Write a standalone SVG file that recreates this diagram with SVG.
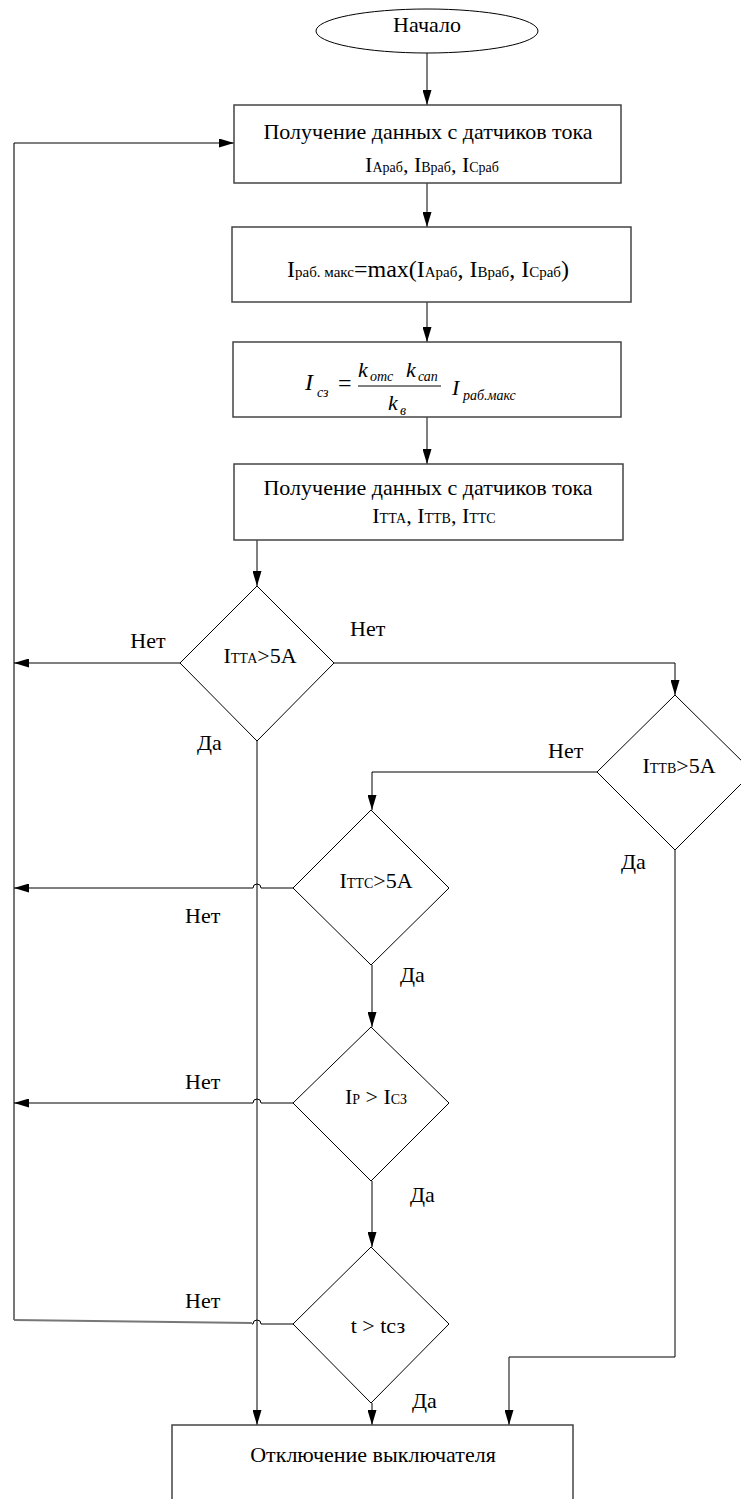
<svg xmlns="http://www.w3.org/2000/svg" width="741" height="1499" viewBox="0 0 741 1499" font-family="'Liberation Serif', 'Times New Roman', serif">
<style>
text{font-family:"Liberation Serif","Times New Roman",serif;fill:#000;}
.t{font-size:22px;}
.c{text-anchor:middle;}
.s{font-size:14px;}
.i{font-style:italic;}
.box{fill:#fff;stroke:#444;stroke-width:1.5;}
.dia{fill:#fff;stroke:#000;stroke-width:1;}
.ln{fill:none;stroke:#000;stroke-width:1;}
.gl{fill:none;stroke:#777;stroke-width:2;}
</style>
<defs>
<marker id="ar" viewBox="0 0 15 9" refX="15" refY="4.5" markerWidth="15" markerHeight="9" markerUnits="userSpaceOnUse" orient="auto">
<path d="M0,0 L15,4.5 L0,9 z" fill="#000"/>
</marker>
</defs>
<rect width="741" height="1499" fill="#fff"/>

<g id="connectors">
<line class="ln" x1="427" y1="53" x2="427" y2="105" marker-end="url(#ar)"/>
<line class="ln" x1="427" y1="183" x2="427" y2="227" marker-end="url(#ar)"/>
<line class="ln" x1="427" y1="302" x2="427" y2="342" marker-end="url(#ar)"/>
<line class="ln" x1="427" y1="417" x2="427" y2="464" marker-end="url(#ar)"/>
<line class="ln" x1="257" y1="540" x2="257" y2="586" marker-end="url(#ar)"/>
<path class="gl" d="M14 143 V1320"/>
<line class="ln" x1="14" y1="143" x2="234" y2="143" marker-end="url(#ar)"/>
<line class="ln" x1="180" y1="663" x2="14" y2="663" marker-end="url(#ar)"/>
<path class="ln" d="M334 663 H675 V695" marker-end="url(#ar)"/>
<path class="ln" d="M597 772 H372 V810" marker-end="url(#ar)"/>
<path class="ln" d="M675 850 V1357 H509 V1425" marker-end="url(#ar)"/>
<line class="ln" x1="257" y1="741" x2="257" y2="1425" marker-end="url(#ar)"/>
<path class="ln" d="M293 888 H261 A4 4 0 0 0 253 888 H14" marker-end="url(#ar)"/>
<path class="ln" d="M293 1103 H261 A4 4 0 0 0 253 1103 H14" marker-end="url(#ar)"/>
<path class="gl" d="M14 1320 L252 1323"/>
<path class="ln" d="M293 1324 H261 A4 4 0 0 0 253 1324 H252"/>
<line class="ln" x1="372" y1="965" x2="372" y2="1027" marker-end="url(#ar)"/>
<line class="ln" x1="372" y1="1181" x2="372" y2="1247" marker-end="url(#ar)"/>
<line class="ln" x1="372" y1="1403" x2="372" y2="1425" marker-end="url(#ar)"/>
</g>

<g id="labels">
<text class="t c" x="148" y="648">Нет</text>
<text class="t" x="350" y="636">Нет</text>
<text class="t" x="197" y="750">Да</text>
<text class="t" x="548" y="758">Нет</text>
<text class="t" x="621" y="869">Да</text>
<text class="t" x="185" y="923">Нет</text>
<text class="t" x="400" y="982">Да</text>
<text class="t" x="185" y="1089">Нет</text>
<text class="t" x="410" y="1202">Да</text>
<text class="t" x="185" y="1308">Нет</text>
<text class="t" x="412" y="1408">Да</text>
</g>

<g id="start">
<ellipse cx="427" cy="31" rx="111" ry="22" fill="#fff" stroke="#000" stroke-width="1"/>
<text class="t c" x="427" y="32">Начало</text>
</g>

<g id="read1">
<rect class="box" x="234" y="105" width="387" height="78"/>
<text class="t c" x="428" y="139">Получение данных с датчиков тока</text>
<text class="t c" x="432" y="172">I<tspan class="s">Араб</tspan>, I<tspan class="s">Враб</tspan>, I<tspan class="s">Сраб</tspan></text>
</g>

<g id="maxcalc">
<rect class="box" x="232" y="227" width="399" height="75"/>
<text class="c" x="428" y="277" font-size="24">I<tspan font-size="15">раб. макс</tspan>=max(I<tspan font-size="15">Араб</tspan>, I<tspan font-size="15">Враб</tspan>, I<tspan font-size="15">Сраб</tspan>)</text>
</g>

<g id="formula">
<rect class="box" x="233" y="342" width="388" height="75"/>
<text class="i" x="305" y="390" font-size="24">I</text>
<text class="i" x="317" y="397" font-size="14">сз</text>
<text x="338" y="391" font-size="24">=</text>
<line x1="358" y1="386" x2="441" y2="386" stroke="#000" stroke-width="1"/>
<text class="i" x="358" y="377" font-size="22">k</text>
<text class="i" x="370" y="381" font-size="14">отс</text>
<text class="i" x="406" y="377" font-size="22">k</text>
<text class="i" x="418" y="381" font-size="14">сап</text>
<text class="i" x="388" y="410" font-size="22">k</text>
<text class="i" x="400" y="415" font-size="14">в</text>
<text class="i" x="452" y="395" font-size="22">I</text>
<text class="i" x="463" y="400" font-size="14">раб.макс</text>
</g>

<g id="read2">
<rect class="box" x="234" y="464" width="389" height="76"/>
<text class="t c" x="428" y="495">Получение данных с датчиков тока</text>
<text class="t c" x="434" y="523">I<tspan class="s">ТТА</tspan>, I<tspan class="s">ТТВ</tspan>, I<tspan class="s">ТТС</tspan></text>
</g>

<g id="d1">
<polygon class="dia" points="257,586 334,663 257,741 180,663"/>
<text class="t c" x="260" y="663">I<tspan class="s">ТТА</tspan>&gt;5A</text>
</g>

<g id="d2">
<polygon class="dia" points="675,695 753,772 675,850 597,772"/>
<text class="t c" x="679" y="773">I<tspan class="s">ТТВ</tspan>&gt;5A</text>
</g>

<g id="d3">
<polygon class="dia" points="371,810 449,888 371,965 293,888"/>
<text class="t c" x="376" y="888">I<tspan class="s">ТТС</tspan>&gt;5A</text>
</g>

<g id="d4">
<polygon class="dia" points="371,1027 449,1103 371,1181 293,1103"/>
<text class="t c" x="376" y="1104">I<tspan class="s">Р</tspan> &gt; I<tspan class="s">СЗ</tspan></text>
</g>

<g id="d5">
<polygon class="dia" points="371,1247 449,1324 371,1403 293,1324"/>
<text class="t c" x="378" y="1333">t &gt; tсз</text>
</g>

<g id="trip">
<rect class="box" x="172" y="1425" width="401" height="100"/>
<text class="t c" x="373" y="1462">Отключение выключателя</text>
</g>
</svg>
